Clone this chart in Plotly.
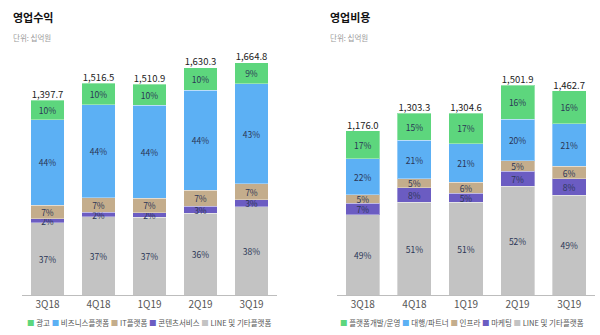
import plotly.graph_objects as go

quarters = ["3Q18", "4Q18", "1Q19", "2Q19", "3Q19"]

# 영업수익
rev_totals = [1397.7, 1516.5, 1510.9, 1630.3, 1664.8]
rev_names = ["광고", "비즈니스플랫폼", "IT플랫폼", "콘텐츠서비스", "LINE 및 기타플랫폼"]
rev_ad = [10, 10, 10, 10, 9]
rev_biz = [44, 44, 44, 44, 43]
rev_it = [7, 7, 7, 7, 7]
rev_content = [2, 2, 2, 3, 3]
rev_line = [37, 37, 37, 36, 38]

# 영업비용
cost_totals = [1176.0, 1303.3, 1304.6, 1501.9, 1462.7]
cost_names = ["플랫폼개발/운영", "대행/파트너", "인프라", "마케팅", "LINE 및 기타플랫폼"]
cost_dev = [17, 15, 17, 16, 16]
cost_agency = [22, 21, 21, 20, 21]
cost_infra = [5, 5, 6, 5, 6]
cost_mkt = [7, 8, 5, 7, 8]
cost_line = [49, 51, 51, 52, 49]

colors = ["#5dd67d", "#5cb0f4", "#c4ad8c", "#6b5cc2", "#c3c3c3"]
FONT = "Noto Sans CJK KR"

fig = go.Figure()

def add_stack(totals, pcts_top_down, names, xa, ya):
    # stack from bottom: reverse of top-down order
    order = list(range(len(pcts_top_down)))[::-1]
    for i in order:
        pct = pcts_top_down[i]
        vals = [t * p / 100 for t, p in zip(totals, pct)]
        fig.add_trace(go.Bar(
            x=quarters, y=vals, name=names[i], xaxis=xa, yaxis=ya,
            marker=dict(color=colors[i], line=dict(color="rgba(255,255,255,0.35)", width=1)),
            text=[f"{p}%" for p in pct], textposition="inside",
            insidetextanchor="middle", textangle=0,
            textfont=dict(family=FONT, size=8.5, color="#2b3656"),
            width=0.66, showlegend=False, hoverinfo="skip"))
    fig.add_trace(go.Scatter(
        x=quarters, y=totals, mode="text", xaxis=xa, yaxis=ya,
        text=[f"{t:,.1f}" for t in totals], textposition="top center",
        textfont=dict(family=FONT, size=9.5, color="#222222"),
        showlegend=False, hoverinfo="skip"))

add_stack(rev_totals, [rev_ad, rev_biz, rev_it, rev_content, rev_line], rev_names, "x", "y")
add_stack(cost_totals, [cost_dev, cost_agency, cost_infra, cost_mkt, cost_line], cost_names, "x2", "y2")

H = 335.0
W = 600.0
ydom = [(H - 295) / H, (H - 44) / H]
yrange = [0, 251 / 0.1395]

axis_common = dict(showline=True, linecolor="#bdbdbd", linewidth=1, ticks="",
                   tickfont=dict(family=FONT, size=10, color="#555555"), showgrid=False,
                   fixedrange=True)
fig.update_layout(
    width=600, height=335,
    margin=dict(l=0, r=0, t=0, b=0),
    paper_bgcolor="white", plot_bgcolor="white",
    barmode="stack", bargap=0.34,
    showlegend=False,
    uniformtext=dict(minsize=8.5, mode="show"),
    xaxis=dict(domain=[22 / W, 277 / W], anchor="y", **axis_common),
    xaxis2=dict(domain=[337 / W, 595 / W], anchor="y2", **axis_common),
    yaxis=dict(domain=ydom, range=yrange, visible=False, anchor="x"),
    yaxis2=dict(domain=ydom, range=yrange, visible=False, anchor="x2"),
)

def legend_text(names):
    parts = []
    for n, c in zip(names, colors):
        parts.append(f"<span style='color:{c}'>■</span> {n}")
    return " ".join(parts)

annots = [
    dict(text="<b>영업수익</b>", x=11 / W, y=1 - 17 / H, xanchor="left", yanchor="middle",
         font=dict(family=FONT, size=11, color="#111111")),
    dict(text="단위: 십억원", x=11 / W, y=1 - 37 / H, xanchor="left", yanchor="middle",
         font=dict(family=FONT, size=7.5, color="#9a9a9a")),
    dict(text="<b>영업비용</b>", x=328 / W, y=1 - 17 / H, xanchor="left", yanchor="middle",
         font=dict(family=FONT, size=11, color="#111111")),
    dict(text="단위: 십억원", x=328 / W, y=1 - 37 / H, xanchor="left", yanchor="middle",
         font=dict(family=FONT, size=7.5, color="#9a9a9a")),
    dict(text=legend_text(rev_names), x=149 / W, y=1 - 322 / H, xanchor="center", yanchor="middle",
         font=dict(family=FONT, size=7.5, color="#555555")),
    dict(text=legend_text(cost_names), x=462 / W, y=1 - 322 / H, xanchor="center", yanchor="middle",
         font=dict(family=FONT, size=7.5, color="#555555")),
]
for a in annots:
    a.update(xref="paper", yref="paper", showarrow=False)
fig.update_layout(annotations=annots)

fig.write_html("out.html")
